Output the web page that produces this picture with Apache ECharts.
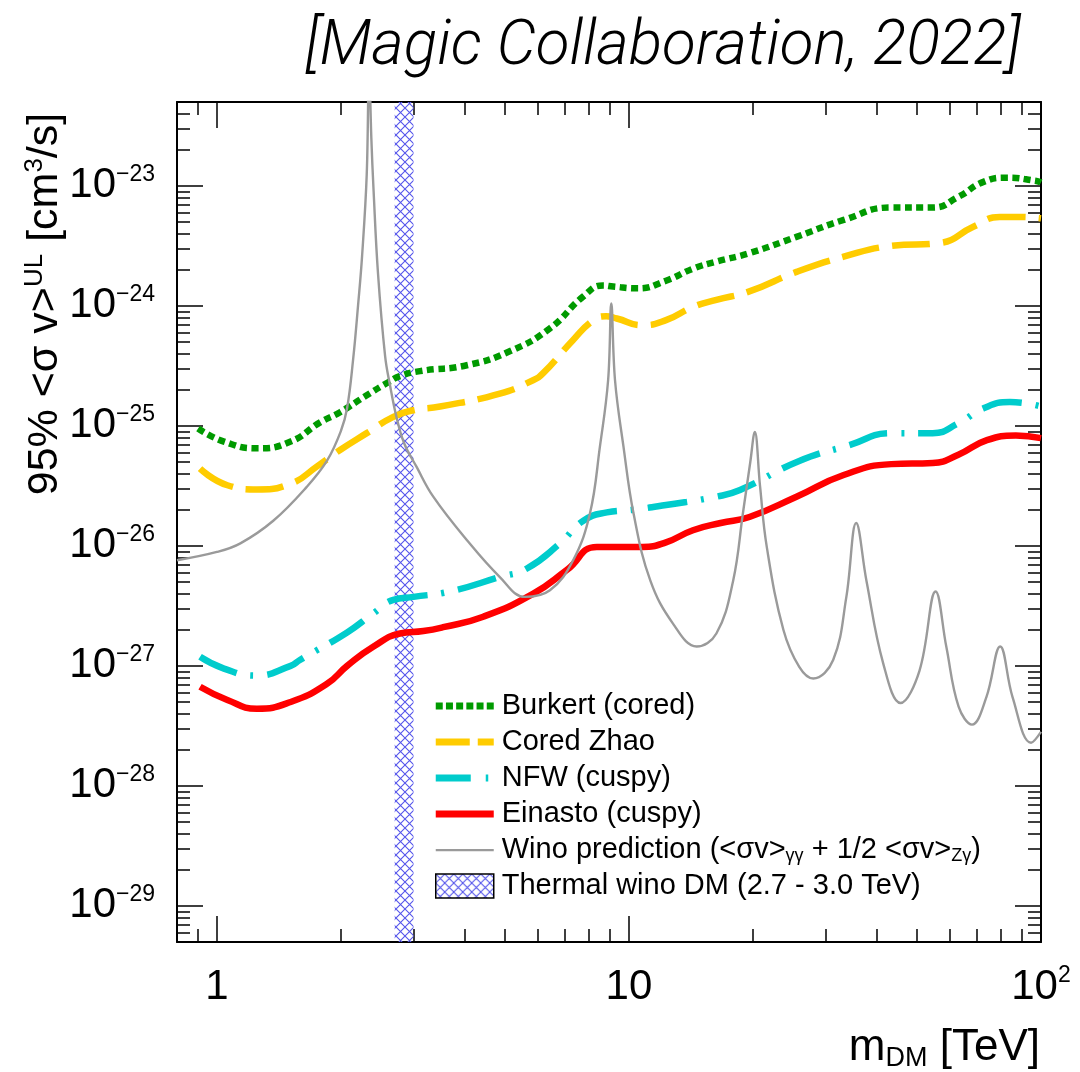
<!DOCTYPE html>
<html><head><meta charset="utf-8">
<script src="https://cdn.jsdelivr.net/npm/echarts@6/dist/echarts.min.js"></script>
<style>html,body{margin:0;padding:0;background:#fff}#c{width:1080px;height:1072px}</style>
</head><body><div id="c"></div><script>
// ---------- data (m_DM in TeV, <sigma v> in cm^3/s) ----------
const burkertM  = [0.9, 1.04, 1.25, 1.51, 1.78, 1.99, 2.31, 2.6, 2.78, 3.11, 4.04, 5.15, 6.43, 7.75, 8.65, 9.16, 10.5, 12.3, 14.3, 16.3, 19.6, 25.5, 33.2, 43.3, 54.6, 63.0, 72.5, 82.5, 97.5, 100];
const burkertSV = [9.5e-26, 7.4e-26, 6.5e-26, 7.4e-26, 1.07e-25, 1.3e-25, 1.8e-25, 2.3e-25, 2.6e-25, 2.86e-25, 3.2e-25, 4.2e-25, 6.5e-25, 1.2e-24, 1.48e-24, 1.45e-24, 1.4e-24, 1.62e-24, 2.04e-24, 2.34e-24, 2.75e-24, 3.76e-24, 5.2e-24, 6.6e-24, 6.6e-24, 8.1e-24, 1.08e-23, 1.17e-23, 1.1e-23, 1.07e-23];

const zhaoM  = [0.91, 1.06, 1.25, 1.51, 1.75, 1.99, 2.31, 2.68, 3.0, 3.48, 4.86, 5.85, 6.19, 7.32, 8.2, 8.8, 9.34, 10.8, 12.3, 14.3, 16.3, 19.6, 25.5, 33.2, 43.3, 57, 68.5, 79.4, 89.3, 100];
const zhaoSV = [4.4e-26, 3.2e-26, 2.95e-26, 3.3e-26, 4.6e-26, 6.3e-26, 8.7e-26, 1.19e-25, 1.35e-25, 1.45e-25, 1.86e-25, 2.4e-25, 2.75e-25, 5.2e-25, 7.6e-25, 8.2e-25, 7.85e-25, 6.9e-25, 7.6e-25, 9.8e-25, 1.12e-24, 1.32e-24, 1.92e-24, 2.57e-24, 3.16e-24, 3.35e-24, 4.57e-24, 5.5e-24, 5.5e-24, 5.37e-24];

const nfwM  = [0.91, 1.04, 1.24, 1.51, 1.59, 2.07, 2.4, 2.68, 3.0, 3.68, 4.86, 5.64, 6.8, 7.75, 8.84, 10.26, 12.3, 16.3, 18.6, 25.9, 34.2, 43.3, 54.6, 63.0, 72.5, 84, 100];
const nfwSV = [1.19e-27, 9.5e-28, 8.3e-28, 1.0e-27, 1.12e-27, 1.9e-27, 2.75e-27, 3.55e-27, 3.76e-27, 4.17e-27, 5.5e-27, 6.45e-27, 1.05e-26, 1.62e-26, 1.9e-26, 2.0e-26, 2.19e-26, 2.57e-26, 2.92e-26, 5.1e-26, 6.9e-26, 8.7e-26, 8.7e-26, 1.05e-25, 1.4e-25, 1.58e-25, 1.45e-25];

const einastoM  = [0.91, 1.06, 1.25, 1.51, 1.85, 2.07, 2.4, 2.78, 3.17, 3.54, 4.43, 5.86, 7.07, 8.36, 10.8, 12.3, 14.3, 16.7, 19.6, 25.5, 33.2, 43.3, 54.6, 63, 73.9, 86.9, 100];
const einastoSV = [6.7e-28, 5.2e-28, 4.4e-28, 5.0e-28, 7.1e-28, 1.0e-27, 1.45e-27, 1.86e-27, 1.95e-27, 2.1e-27, 2.57e-27, 4.0e-27, 6.3e-27, 9.8e-27, 9.8e-27, 1.07e-26, 1.35e-26, 1.55e-26, 1.74e-26, 2.57e-26, 3.9e-26, 4.8e-26, 4.9e-26, 5.75e-26, 7.6e-26, 8.3e-26, 7.9e-26];

const winoM  = [0.8, 1.0, 1.14, 1.37, 1.65, 1.85, 2.0, 2.07, 2.14, 2.2, 2.25, 2.31, 2.34, 2.37, 2.4, 2.46, 2.56, 2.63, 2.73, 2.85, 3.05, 3.35, 4.04, 4.86, 5.59, 6.43, 7.32, 8.04, 8.5, 8.9, 9.06, 9.25, 9.7, 10.26, 11.27, 12.8, 14.6, 16.3, 17.9, 18.9, 19.7, 20.2, 20.8, 21.6, 23.7, 25.9, 28.0, 31.3, 33.7, 35.6, 37.7, 41.4, 45.6, 50.7, 55.5, 58.9, 63.1, 68.0, 73.7, 79.6, 85.3, 94.6, 100];
const winoSV = [7.59e-27, 8.9e-27, 1.05e-26, 1.62e-26, 3.09e-26, 5.13e-26, 9.1e-26, 1.41e-25, 3.55e-25, 1.0e-24, 2.57e-24, 1.26e-23, 1.0e-22, 2.5e-23, 9.1e-24, 1.86e-24, 3.8e-25, 2.19e-25, 1.17e-25, 7.1e-26, 4.57e-26, 2.57e-26, 1.12e-26, 5.5e-27, 3.76e-27, 4.27e-27, 7.59e-27, 1.86e-26, 6.68e-26, 2.4e-25, 1.05e-24, 2.4e-25, 6.68e-26, 1.86e-26, 5.13e-27, 2.24e-27, 1.45e-27, 1.86e-27, 5.13e-27, 1.86e-26, 5.0e-26, 8.9e-26, 3.16e-26, 9.8e-27, 2.0e-27, 9.8e-28, 7.85e-28, 1.12e-27, 3.76e-27, 1.55e-26, 5.13e-27, 1.05e-27, 4.9e-28, 9.1e-28, 4.17e-27, 1.45e-27, 4.57e-28, 3.24e-28, 5.5e-28, 1.45e-27, 5.5e-28, 2.29e-28, 2.82e-28];

const thermalRange = [2.7, 3.0];

const xRange = [0.8, 100];
const yRange = [5e-30, 5e-23];
const xMajorTicks = [1, 10, 100];
const xMinorTicks = [0.9, 2, 3, 4, 5, 6, 7, 8, 9, 20, 30, 40, 50, 60, 70, 80, 90];
const yMajorExponents = [-29, -28, -27, -26, -25, -24, -23];

const names = ['Burkert (cored)', 'Cored Zhao', 'NFW (cuspy)', 'Einasto (cuspy)',
  'Wino prediction (<σv>γγ + 1/2 <σv>Zγ)', 'Thermal wino DM (2.7 - 3.0 TeV)'];
const colors = ['#009a00', '#ffcc00', '#00cccc', '#ff0000', '#9a9a9a'];

// ---------- helpers ----------
const L = Math.log10;
const FF = "'Liberation Sans', Arial, Helvetica, sans-serif";
const TF = "Roboto, 'Liberation Sans', Arial, sans-serif";
const pts = (m, v) => m.map((x, i) => [L(x), L(v[i])]);
const yMinor = [];
for (let e = -30; e <= -23; e++) for (let k = 2; k <= 9; k++) {
  const v = k * Math.pow(10, e);
  if (v > yRange[0] && v < yRange[1]) yMinor.push(L(v));
}

// hatch pattern
const hc = document.createElement('canvas');
hc.width = 9; hc.height = 9;
const g = hc.getContext('2d');
g.strokeStyle = 'rgb(85,85,235)'; g.lineWidth = 1.1;
g.beginPath(); g.moveTo(0, 0); g.lineTo(9, 9); g.moveTo(9, 0); g.lineTo(0, 9); g.stroke();
const hatch = { image: hc, repeat: 'repeat' };

// legend icons (box 58 x 24, marks centred vertically)
const BOX = 'M0 0 M58 24 ';
let dots = BOX;
for (let i = 0; i < 6; i++) { const x = i * 10.2; dots += 'M' + x + ' 8.5h7v7h-7Z '; }
const icons = [
  dots,
  BOX + 'M0 8.5h34v7h-34Z M42 8.5h16v7h-16Z',
  BOX + 'M0 8.5h35v7h-35Z M50 8.5h2.5v7h-2.5Z',
  BOX + 'M0 8.5h58v7h-58Z',
  BOX + 'M0 11h58v2.2h-58Z'
];

const richLab = { b: { fontSize: 42, fontFamily: FF, color: '#000', lineHeight: 46 },
                  s: { fontSize: 23, fontFamily: FF, color: '#000', verticalAlign: 'top', lineHeight: 24 } };
const xLab = {
  customValues: xMajorTicks.map(L), margin: 22, color: '#000',
  formatter: v => { const e = Math.round(v); return e === 0 ? '{b|1}' : e === 1 ? '{b|10}' : '{b|10}{s|' + e + '}'; },
  rich: richLab
};
const yLab = {
  customValues: yMajorExponents, margin: 22, color: '#000',
  formatter: v => '{b|10}{s|−' + Math.abs(Math.round(v)) + '}',
  rich: richLab
};
function xAx(pos, ticks, len, line, label) {
  return { type: 'value', position: pos, min: L(xRange[0]), max: L(xRange[1]),
    axisLine: { show: line, onZero: false, lineStyle: { color: '#000', width: 2 } },
    axisTick: { show: true, inside: true, length: len, customValues: ticks, lineStyle: { color: '#000', width: 1.5 } },
    axisLabel: label ? label : { show: false }, splitLine: { show: false } };
}
function yAx(pos, ticks, len, line, label) {
  return { type: 'value', position: pos, min: L(yRange[0]), max: L(yRange[1]),
    axisLine: { show: line, onZero: false, lineStyle: { color: '#000', width: 2 } },
    axisTick: { show: true, inside: true, length: len, customValues: ticks, lineStyle: { color: '#000', width: 1.5 } },
    axisLabel: label ? label : { show: false }, splitLine: { show: false } };
}

function lineSeries(i, m, v, width, type, smooth) {
  const color = colors[i];
  return { name: names[i], type: 'line', data: pts(m, v), showSymbol: false, symbol: 'none', smooth: smooth,
    z: 3, xAxisIndex: 0, yAxisIndex: 0,
    lineStyle: { color, width, type, cap: 'butt', join: 'round' }, itemStyle: { color }, emphasis: { disabled: true } };
}

const option = {
  animation: false,
  backgroundColor: '#fff',
  title: { text: '[Magic Collaboration, 2022]', right: 54, top: 12,
    textStyle: { fontFamily: TF, fontSize: 62, fontStyle: 'italic', fontWeight: 300, color: '#000' } },
  grid: { left: 177, right: 39, top: 102, bottom: 130, containLabel: false },
  xAxis: [
    xAx('bottom', xMajorTicks.map(L), 26, true, xLab),
    xAx('bottom', xMinorTicks.map(L), 13, false),
    xAx('top', xMajorTicks.map(L), 26, true),
    xAx('top', xMinorTicks.map(L), 13, false)
  ],
  yAxis: [
    yAx('left', yMajorExponents, 26, true, yLab),
    yAx('left', yMinor, 13, false),
    yAx('right', yMajorExponents, 26, true),
    yAx('right', yMinor, 13, false)
  ],
  legend: {
    orient: 'vertical', left: 430, top: 686, itemWidth: 58, itemHeight: 24, itemGap: 6,
    selectedMode: false,
    textStyle: { fontFamily: FF, fontSize: 29, color: '#000', lineHeight: 30, padding: [0, 0, 0, 3],
      rich: { t: { fontFamily: FF, fontSize: 29, color: '#000', lineHeight: 30 },
              sub: { fontFamily: FF, fontSize: 18, color: '#000', verticalAlign: 'bottom', lineHeight: 14 } } },
    formatter: n => n.indexOf('Wino') === 0 ? '{t|Wino prediction (<σv>}{sub|γγ}{t| + 1/2 <σv>}{sub|Zγ}{t|)}' : n,
    data: names.slice(0, 5).map((n, i) => ({ name: n, icon: 'path://' + icons[i],
        itemStyle: { color: colors[i], borderWidth: 0 } }))
      .concat([{ name: names[5], icon: 'rect', itemStyle: { color: hatch, borderColor: '#000', borderWidth: 1.5 } }])
  },
  graphic: [
    { type: 'text', x: 45, y: 304, rotation: Math.PI / 2,
      style: { text: '{a|95% <σ v>}{s|UL}{a| [cm}{s|3}{a|/s]}', align: 'center', verticalAlign: 'middle',
        rich: { a: { fontFamily: FF, fontSize: 43, lineHeight: 46, fill: '#000' },
                s: { fontFamily: FF, fontSize: 26, lineHeight: 26, verticalAlign: 'top', fill: '#000' } } } },
    { type: 'text', x: 1040, y: 1048,
      style: { text: '{a|m}{d|DM}{a| [TeV]}', align: 'right', verticalAlign: 'middle',
        rich: { a: { fontFamily: FF, fontSize: 44, lineHeight: 48, fill: '#000' },
                d: { fontFamily: FF, fontSize: 27, lineHeight: 20, verticalAlign: 'bottom', fill: '#000' } } } }
  ],
  series: [
    { name: names[5], type: 'bar', data: [], z: 1, xAxisIndex: 0, yAxisIndex: 0,
      itemStyle: { color: hatch, borderColor: '#000', borderWidth: 1.5 },
      markArea: { silent: true, itemStyle: { color: hatch, opacity: 1, borderWidth: 0 },
        data: [[{ xAxis: L(thermalRange[0]) }, { xAxis: L(thermalRange[1]) }]] } },
    lineSeries(0, burkertM, burkertSV, 6.5, [7, 4.5], 0.5),
    lineSeries(1, zhaoM, zhaoSV, 6.5, [38, 13], 0.5),
    lineSeries(2, nfwM, nfwSV, 6.5, [40, 14, 3, 14], 0.5),
    lineSeries(3, einastoM, einastoSV, 6.5, 'solid', 0.5),
    lineSeries(4, winoM, winoSV, 2.4, 'solid', 0.4)
  ]
};
const chart = echarts.init(document.getElementById('c'), null, { renderer: 'canvas' });
chart.setOption(option);
</script></body></html>
